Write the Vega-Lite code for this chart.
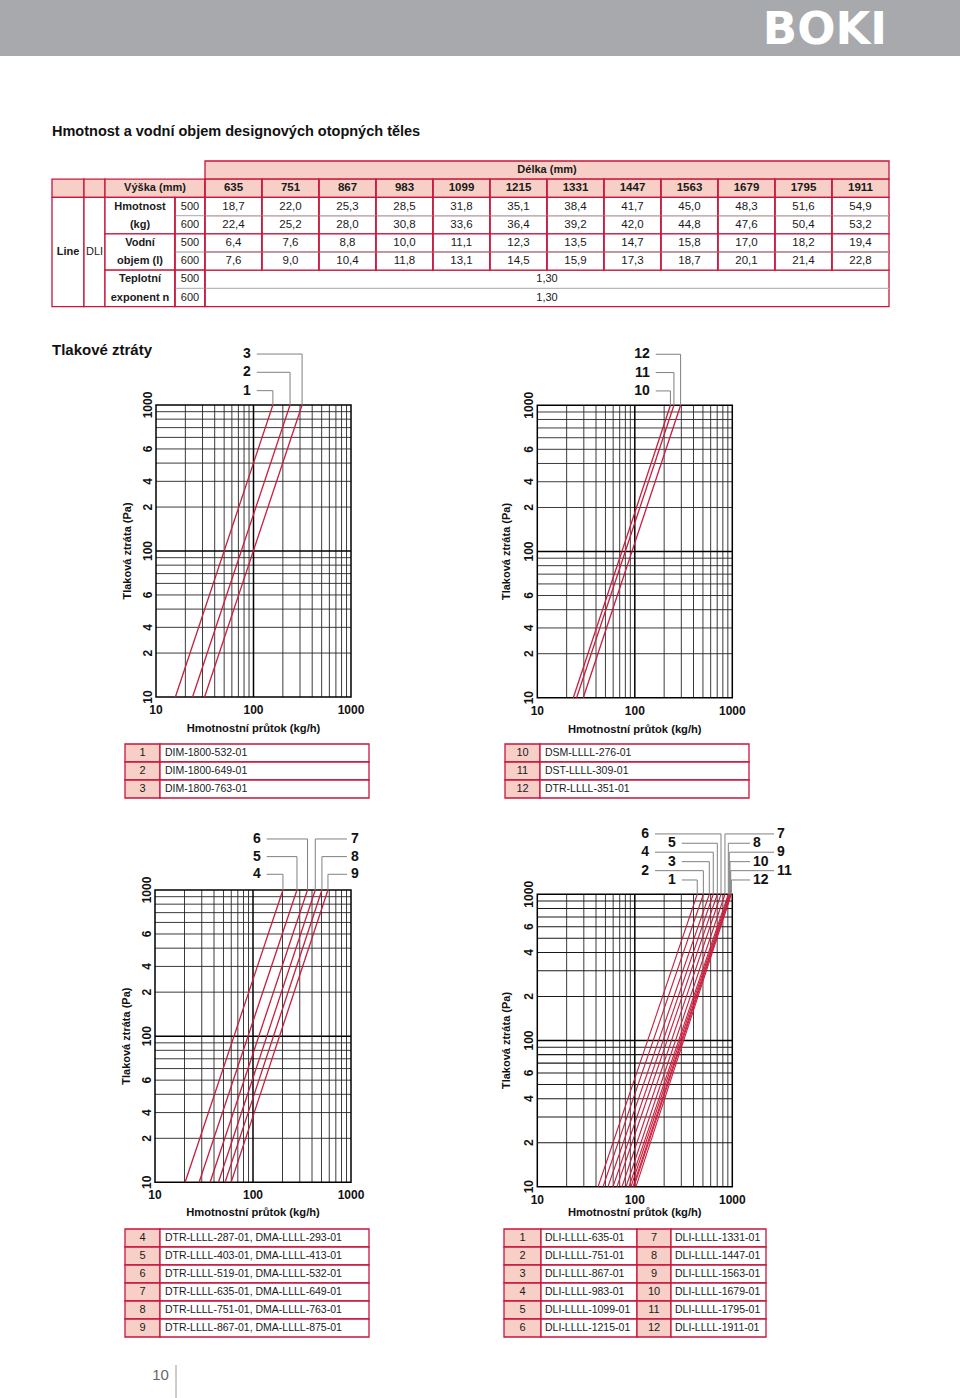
{
"$schema":"https://vega.github.io/schema/vega-lite/v6.json",
"width":960,"height":1398,
"autosize":{"type":"none"},
"padding":0,
"background":"white",
"config":{"view":{"stroke":null},"axis":{"disable":true},"legend":{"disable":true},"font":"Liberation Sans","text":{"font":"Liberation Sans","color":"#1a1a1a"}},
"resolve":{"scale":{"x":"independent","y":"independent","fill":"independent"}},
"datasets":{
 "grid":[{"v":20},{"v":30},{"v":40},{"v":50},{"v":60},{"v":70},{"v":80},{"v":90},{"v":200},{"v":300},{"v":400},{"v":500},{"v":600},{"v":700},{"v":800},{"v":900}],
 "xl":[{"v":10,"t":"10"},{"v":100,"t":"100"},{"v":1000,"t":"1000"}],
 "yl13":[{"v":10,"t":"10"},{"v":20,"t":"2"},{"v":30,"t":"4"},{"v":50,"t":"6"},{"v":100,"t":"100"},{"v":200,"t":"2"},{"v":300,"t":"4"},{"v":500,"t":"6"},{"v":1000,"t":"1000"}],
 "yl4":[{"v":10,"t":"10"},{"v":20,"t":"2"},{"v":40,"t":"4"},{"v":60,"t":"6"},{"v":100,"t":"100"},{"v":200,"t":"2"},{"v":400,"t":"4"},{"v":600,"t":"6"},{"v":1000,"t":"1000"}],
 "l1":[{"id":"1","m":15.8,"p":10},{"id":"1","m":158,"p":1000},{"id":"2","m":23.7,"p":10},{"id":"2","m":237,"p":1000},{"id":"3","m":31.5,"p":10},{"id":"3","m":315,"p":1000}],
 "a1":[{"id":"3","side":"L","ls":108,"xt":315,"ly":2234},{"id":"2","side":"L","ls":108,"xt":237,"ly":1675},{"id":"1","side":"L","ls":108,"xt":158,"ly":1254}],
 "l2":[{"id":"10","m":23.4,"p":10},{"id":"10","m":232,"p":1000},{"id":"11","m":25.3,"p":10},{"id":"11","m":252,"p":1000},{"id":"12","m":29.6,"p":10},{"id":"12","m":295,"p":1000}],
 "a2":[{"id":"12","side":"L","ls":164,"xt":295,"ly":2234},{"id":"11","side":"L","ls":164,"xt":252,"ly":1675},{"id":"10","side":"L","ls":164,"xt":232,"ly":1254}],
 "l3":[{"id":"4","m":20.3,"p":10},{"id":"4","m":202,"p":1000},{"id":"5","m":28.2,"p":10},{"id":"5","m":281,"p":1000},{"id":"6","m":36.5,"p":10},{"id":"6","m":360,"p":1000},{"id":"7","m":44.4,"p":10},{"id":"7","m":432,"p":1000},{"id":"8","m":51.9,"p":10},{"id":"8","m":505,"p":1000},{"id":"9","m":59.8,"p":10},{"id":"9","m":582,"p":1000}],
 "a3":[{"id":"6","side":"L","ls":138,"xt":360,"ly":2234},{"id":"5","side":"L","ls":138,"xt":281,"ly":1692},{"id":"4","side":"L","ls":138,"xt":202,"ly":1281},{"id":"7","side":"R","ls":910,"xt":432,"ly":2234},{"id":"8","side":"R","ls":910,"xt":505,"ly":1692},{"id":"9","side":"R","ls":910,"xt":582,"ly":1281}],
 "l4":[{"id":"1","m":42.0,"p":10},{"id":"1","m":437,"p":1000},{"id":"2","m":47.2,"p":10},{"id":"2","m":505,"p":1000},{"id":"3","m":53.1,"p":10},{"id":"3","m":581,"p":1000},{"id":"4","m":59.7,"p":10},{"id":"4","m":638,"p":1000},{"id":"5","m":65.6,"p":10},{"id":"5","m":702,"p":1000},{"id":"6","m":73.9,"p":10},{"id":"6","m":766,"p":1000},{"id":"7","m":81.3,"p":10},{"id":"7","m":841,"p":1000},{"id":"8","m":87.2,"p":10},{"id":"8","m":910,"p":1000},{"id":"9","m":91.4,"p":10},{"id":"9","m":931,"p":1000},{"id":"10","m":95.9,"p":10},{"id":"10","m":947,"p":1000},{"id":"11","m":98.2,"p":10},{"id":"11","m":963,"p":1000},{"id":"12","m":102.9,"p":10},{"id":"12","m":977,"p":1000}],
 "a4":[{"id":"6","side":"L","ls":161,"xt":766,"ly":2588},{"id":"4","side":"L","ls":161,"xt":638,"ly":1941},{"id":"2","side":"L","ls":161,"xt":505,"ly":1451},{"id":"5","side":"L","ls":303,"xt":702,"ly":2234},{"id":"3","side":"L","ls":303,"xt":581,"ly":1672},{"id":"1","side":"L","ls":303,"xt":437,"ly":1253},{"id":"7","side":"R","ls":2680,"xt":841,"ly":2588},{"id":"9","side":"R","ls":2680,"xt":931,"ly":1941},{"id":"11","side":"R","ls":2680,"xt":963,"ly":1451},{"id":"8","side":"R","ls":1520,"xt":910,"ly":2234},{"id":"10","side":"R","ls":1520,"xt":947,"ly":1672},{"id":"12","side":"R","ls":1520,"xt":977,"ly":1253}],
 "tbl":[
  {"l":"635","r":"hdr","t":"635"},{"l":"751","r":"hdr","t":"751"},{"l":"867","r":"hdr","t":"867"},{"l":"983","r":"hdr","t":"983"},{"l":"1099","r":"hdr","t":"1099"},{"l":"1215","r":"hdr","t":"1215"},{"l":"1331","r":"hdr","t":"1331"},{"l":"1447","r":"hdr","t":"1447"},{"l":"1563","r":"hdr","t":"1563"},{"l":"1679","r":"hdr","t":"1679"},{"l":"1795","r":"hdr","t":"1795"},{"l":"1911","r":"hdr","t":"1911"},
  {"l":"635","r":"H500","t":"18,7"},{"l":"751","r":"H500","t":"22,0"},{"l":"867","r":"H500","t":"25,3"},{"l":"983","r":"H500","t":"28,5"},{"l":"1099","r":"H500","t":"31,8"},{"l":"1215","r":"H500","t":"35,1"},{"l":"1331","r":"H500","t":"38,4"},{"l":"1447","r":"H500","t":"41,7"},{"l":"1563","r":"H500","t":"45,0"},{"l":"1679","r":"H500","t":"48,3"},{"l":"1795","r":"H500","t":"51,6"},{"l":"1911","r":"H500","t":"54,9"},
  {"l":"635","r":"H600","t":"22,4"},{"l":"751","r":"H600","t":"25,2"},{"l":"867","r":"H600","t":"28,0"},{"l":"983","r":"H600","t":"30,8"},{"l":"1099","r":"H600","t":"33,6"},{"l":"1215","r":"H600","t":"36,4"},{"l":"1331","r":"H600","t":"39,2"},{"l":"1447","r":"H600","t":"42,0"},{"l":"1563","r":"H600","t":"44,8"},{"l":"1679","r":"H600","t":"47,6"},{"l":"1795","r":"H600","t":"50,4"},{"l":"1911","r":"H600","t":"53,2"},
  {"l":"635","r":"V500","t":"6,4"},{"l":"751","r":"V500","t":"7,6"},{"l":"867","r":"V500","t":"8,8"},{"l":"983","r":"V500","t":"10,0"},{"l":"1099","r":"V500","t":"11,1"},{"l":"1215","r":"V500","t":"12,3"},{"l":"1331","r":"V500","t":"13,5"},{"l":"1447","r":"V500","t":"14,7"},{"l":"1563","r":"V500","t":"15,8"},{"l":"1679","r":"V500","t":"17,0"},{"l":"1795","r":"V500","t":"18,2"},{"l":"1911","r":"V500","t":"19,4"},
  {"l":"635","r":"V600","t":"7,6"},{"l":"751","r":"V600","t":"9,0"},{"l":"867","r":"V600","t":"10,4"},{"l":"983","r":"V600","t":"11,8"},{"l":"1099","r":"V600","t":"13,1"},{"l":"1215","r":"V600","t":"14,5"},{"l":"1331","r":"V600","t":"15,9"},{"l":"1447","r":"V600","t":"17,3"},{"l":"1563","r":"V600","t":"18,7"},{"l":"1679","r":"V600","t":"20,1"},{"l":"1795","r":"V600","t":"21,4"},{"l":"1911","r":"V600","t":"22,8"}
 ],
 "tcells":[
  {"c0":4,"c1":16,"r0":0,"r1":1,"f":"p"},
  {"c0":0,"c1":1,"r0":1,"r1":2,"f":"p"},{"c0":1,"c1":2,"r0":1,"r1":2,"f":"p"},{"c0":2,"c1":4,"r0":1,"r1":2,"f":"p"},
  {"c0":0,"c1":1,"r0":2,"r1":8,"f":"w"},{"c0":1,"c1":2,"r0":2,"r1":8,"f":"w"},
  {"c0":2,"c1":3,"r0":2,"r1":4,"f":"w"},{"c0":2,"c1":3,"r0":4,"r1":6,"f":"w"},{"c0":2,"c1":3,"r0":6,"r1":8,"f":"w"},
  {"c0":3,"c1":4,"r0":2,"r1":4,"f":"w"},{"c0":3,"c1":4,"r0":4,"r1":6,"f":"w"},{"c0":3,"c1":4,"r0":6,"r1":8,"f":"w"},
  {"c0":4,"c1":16,"r0":6,"r1":8,"f":"w"}
 ],
 "tlab":[
  {"cx":10,"cy":0.5,"t":"Délka (mm)","w":"b"},
  {"cx":2.714,"cy":1.5,"t":"Výška (mm)","w":"b"},
  {"cx":0.5,"cy":5,"t":"Line","w":"b"},
  {"cx":1.5,"cy":5,"t":"DLI","w":"n"},
  {"cx":2.5,"cy":2.5,"t":"Hmotnost","w":"b"},{"cx":2.5,"cy":3.5,"t":"(kg)","w":"b"},
  {"cx":2.5,"cy":4.5,"t":"Vodní","w":"b"},{"cx":2.5,"cy":5.5,"t":"objem (l)","w":"b"},
  {"cx":2.5,"cy":6.5,"t":"Teplotní","w":"b"},{"cx":2.5,"cy":7.5,"t":"exponent n","w":"b"},
  {"cx":3.5,"cy":2.5,"t":"500","w":"n"},{"cx":3.5,"cy":3.5,"t":"600","w":"n"},
  {"cx":3.5,"cy":4.5,"t":"500","w":"n"},{"cx":3.5,"cy":5.5,"t":"600","w":"n"},
  {"cx":3.5,"cy":6.5,"t":"500","w":"n"},{"cx":3.5,"cy":7.5,"t":"600","w":"n"},
  {"cx":10,"cy":6.5,"t":"1,30","w":"n"},{"cx":10,"cy":7.5,"t":"1,30","w":"n"}
 ],
 "tgray":[{"c0":3,"c1":16,"r":3},{"c0":3,"c1":16,"r":5},{"c0":3,"c1":16,"r":7}],
 "tvert":[{"c":3,"r0":2,"r1":8},{"c":4,"r0":1,"r1":8},{"c":5,"r0":1,"r1":6},{"c":6,"r0":1,"r1":6},{"c":7,"r0":1,"r1":6},{"c":8,"r0":1,"r1":6},{"c":9,"r0":1,"r1":6},{"c":10,"r0":1,"r1":6},{"c":11,"r0":1,"r1":6},{"c":12,"r0":1,"r1":6},{"c":13,"r0":1,"r1":6},{"c":14,"r0":1,"r1":6},{"c":15,"r0":1,"r1":6}],
 "g1":[{"k":"1","t":"DIM-1800-532-01"},{"k":"2","t":"DIM-1800-649-01"},{"k":"3","t":"DIM-1800-763-01"}],
 "g2":[{"k":"10","t":"DSM-LLLL-276-01"},{"k":"11","t":"DST-LLLL-309-01"},{"k":"12","t":"DTR-LLLL-351-01"}],
 "g3":[{"k":"4","t":"DTR-LLLL-287-01, DMA-LLLL-293-01"},{"k":"5","t":"DTR-LLLL-403-01, DMA-LLLL-413-01"},{"k":"6","t":"DTR-LLLL-519-01, DMA-LLLL-532-01"},{"k":"7","t":"DTR-LLLL-635-01, DMA-LLLL-649-01"},{"k":"8","t":"DTR-LLLL-751-01, DMA-LLLL-763-01"},{"k":"9","t":"DTR-LLLL-867-01, DMA-LLLL-875-01"}],
 "g4":[{"k1":"1","t1":"DLI-LLLL-635-01","k2":"7","t2":"DLI-LLLL-1331-01"},{"k1":"2","t1":"DLI-LLLL-751-01","k2":"8","t2":"DLI-LLLL-1447-01"},{"k1":"3","t1":"DLI-LLLL-867-01","k2":"9","t2":"DLI-LLLL-1563-01"},{"k1":"4","t1":"DLI-LLLL-983-01","k2":"10","t2":"DLI-LLLL-1679-01"},{"k1":"5","t1":"DLI-LLLL-1099-01","k2":"11","t2":"DLI-LLLL-1795-01"},{"k1":"6","t1":"DLI-LLLL-1215-01","k2":"12","t2":"DLI-LLLL-1911-01"}]
},
"layer":[
 {"data":{"values":[{"logo":"BOKI"}]},
  "layer":[
   {"mark":{"type":"rect","fill":"#a7a9ac"},"encoding":{"x":{"datum":0,"type":"quantitative","scale":{"domain":[0,1],"range":[0,960],"nice":false}},"x2":{"datum":1},"y":{"datum":0,"type":"quantitative","scale":{"domain":[0,1],"range":[0,56],"nice":false}},"y2":{"datum":1}}},
   {"mark":{"type":"text","font":"DejaVu Sans","fontWeight":"bold","fontSize":45,"color":"white","align":"right","baseline":"middle"},"encoding":{"x":{"datum":0.924,"type":"quantitative","scale":{"domain":[0,1],"range":[0,960],"nice":false}},"y":{"datum":0.53,"type":"quantitative","scale":{"domain":[0,1],"range":[0,56],"nice":false}},"text":{"field":"logo","type":"nominal"}}}
  ]},
 {"layer":[
   {"data":{"name":"tcells"},"mark":{"type":"rect","stroke":"#c8163c","strokeWidth":1.3},"encoding":{"x":{"field":"c0","type":"quantitative","scale":{"type":"linear","domain":[0,1,2,3,4,16],"range":[52,84,105,175,205,889],"nice":false,"zero":false}},"x2":{"field":"c1"},"y":{"field":"r0","type":"quantitative","scale":{"type":"linear","domain":[0,8],"range":[161,306.6],"nice":false,"zero":false}},"y2":{"field":"r1"},"fill":{"field":"f","type":"nominal","scale":{"domain":["p","w"],"range":["#f8cfc7","white"]},"legend":null}}},
   {"data":{"name":"tlab"},"transform":[{"filter":"datum.w==='b'"}],"mark":{"type":"text","fontWeight":"bold","fontSize":11,"baseline":"middle"},"encoding":{"x":{"field":"cx","type":"quantitative","scale":{"type":"linear","domain":[0,1,2,3,4,16],"range":[52,84,105,175,205,889],"nice":false,"zero":false}},"y":{"field":"cy","type":"quantitative","scale":{"type":"linear","domain":[0,8],"range":[161,306.6],"nice":false,"zero":false}},"text":{"field":"t","type":"nominal"}}},
   {"data":{"name":"tlab"},"transform":[{"filter":"datum.w==='n'"}],"mark":{"type":"text","fontSize":11,"baseline":"middle"},"encoding":{"x":{"field":"cx","type":"quantitative","scale":{"type":"linear","domain":[0,1,2,3,4,16],"range":[52,84,105,175,205,889],"nice":false,"zero":false}},"y":{"field":"cy","type":"quantitative","scale":{"type":"linear","domain":[0,8],"range":[161,306.6],"nice":false,"zero":false}},"text":{"field":"t","type":"nominal"}}},
   {"data":{"values":[{"cx":0,"cy":-1.35,"t":"Hmotnost a vodní objem designových otopných těles"}]},"mark":{"type":"text","fontWeight":"bold","fontSize":14.5,"align":"left","baseline":"alphabetic","color":"#111"},"encoding":{"x":{"field":"cx","type":"quantitative","scale":{"type":"linear","domain":[0,1,2,3,4,16],"range":[52,84,105,175,205,889],"nice":false,"zero":false}},"y":{"field":"cy","type":"quantitative","scale":{"type":"linear","domain":[0,8],"range":[161,306.6],"nice":false,"zero":false}},"text":{"field":"t","type":"nominal"}}},
   {"data":{"values":[{"cx":0,"cy":10.66,"t":"Tlakové ztráty"}]},"mark":{"type":"text","fontWeight":"bold","fontSize":15,"align":"left","baseline":"alphabetic","color":"#111"},"encoding":{"x":{"field":"cx","type":"quantitative","scale":{"type":"linear","domain":[0,1,2,3,4,16],"range":[52,84,105,175,205,889],"nice":false,"zero":false}},"y":{"field":"cy","type":"quantitative","scale":{"type":"linear","domain":[0,8],"range":[161,306.6],"nice":false,"zero":false}},"text":{"field":"t","type":"nominal"}}}
  ]},
 {"data":{"name":"tbl"},
  "layer":[
   {"mark":{"type":"rect","stroke":"#c8163c","strokeWidth":1.3},"encoding":{"x":{"field":"l","type":"nominal","scale":{"type":"band","domain":["635","751","867","983","1099","1215","1331","1447","1563","1679","1795","1911"],"range":[205,889],"paddingInner":0,"paddingOuter":0}},"y":{"field":"r","type":"nominal","scale":{"type":"band","domain":["hdr","H500","H600","V500","V600"],"range":[179.2,270.2],"paddingInner":0,"paddingOuter":0}},"fill":{"condition":{"test":"datum.r==='hdr'","value":"#f8cfc7"},"value":"white"}}},
   {"transform":[{"filter":"datum.r==='hdr'"}],"mark":{"type":"text","fontWeight":"bold","fontSize":11.5,"baseline":"middle"},"encoding":{"x":{"field":"l","type":"nominal","scale":{"type":"band","domain":["635","751","867","983","1099","1215","1331","1447","1563","1679","1795","1911"],"range":[205,889],"paddingInner":0,"paddingOuter":0}},"y":{"field":"r","type":"nominal","scale":{"type":"band","domain":["hdr","H500","H600","V500","V600"],"range":[179.2,270.2],"paddingInner":0,"paddingOuter":0}},"text":{"field":"t","type":"nominal"}}},
   {"transform":[{"filter":"datum.r!=='hdr'"}],"mark":{"type":"text","fontSize":11.5,"baseline":"middle"},"encoding":{"x":{"field":"l","type":"nominal","scale":{"type":"band","domain":["635","751","867","983","1099","1215","1331","1447","1563","1679","1795","1911"],"range":[205,889],"paddingInner":0,"paddingOuter":0}},"y":{"field":"r","type":"nominal","scale":{"type":"band","domain":["hdr","H500","H600","V500","V600"],"range":[179.2,270.2],"paddingInner":0,"paddingOuter":0}},"text":{"field":"t","type":"nominal"}}}
  ]},
 {"layer":[
   {"data":{"name":"tgray"},"mark":{"type":"rule","color":"#b8b8b8","strokeWidth":1.3},"encoding":{"x":{"field":"c0","type":"quantitative","scale":{"type":"linear","domain":[0,1,2,3,4,16],"range":[52,84,105,175,205,889],"nice":false,"zero":false}},"x2":{"field":"c1"},"y":{"field":"r","type":"quantitative","scale":{"type":"linear","domain":[0,8],"range":[161,306.6],"nice":false,"zero":false}}}},
   {"data":{"name":"tvert"},"mark":{"type":"rule","color":"#c8163c","strokeWidth":1.3},"encoding":{"x":{"field":"c","type":"quantitative","scale":{"type":"linear","domain":[0,1,2,3,4,16],"range":[52,84,105,175,205,889],"nice":false,"zero":false}},"y":{"field":"r0","type":"quantitative","scale":{"type":"linear","domain":[0,8],"range":[161,306.6],"nice":false,"zero":false}},"y2":{"field":"r1"}}}
  ]},
 {"layer":[
   {"data":{"name":"grid"},"mark":{"type":"rule","color":"#262626","strokeWidth":0.9},"encoding":{"x":{"field":"v","type":"quantitative","scale":{"type":"log","domain":[10,1000],"range":[156,351],"nice":false}},"y":{"datum":10,"type":"quantitative","scale":{"type":"log","domain":[10,1000],"range":[697,405],"nice":false}},"y2":{"datum":1000}}},
   {"data":{"name":"grid"},"mark":{"type":"rule","color":"#262626","strokeWidth":0.9},"encoding":{"y":{"field":"v","type":"quantitative","scale":{"type":"log","domain":[10,1000],"range":[697,405],"nice":false}},"x":{"datum":10,"type":"quantitative","scale":{"type":"log","domain":[10,1000],"range":[156,351],"nice":false}},"x2":{"datum":1000}}},
   {"data":{"values":[{"v":100}]},"mark":{"type":"rule","color":"#000","strokeWidth":1.5},"encoding":{"x":{"field":"v","type":"quantitative","scale":{"type":"log","domain":[10,1000],"range":[156,351],"nice":false}},"y":{"datum":10,"type":"quantitative","scale":{"type":"log","domain":[10,1000],"range":[697,405],"nice":false}},"y2":{"datum":1000}}},
   {"data":{"values":[{"v":100}]},"mark":{"type":"rule","color":"#000","strokeWidth":1.5},"encoding":{"y":{"field":"v","type":"quantitative","scale":{"type":"log","domain":[10,1000],"range":[697,405],"nice":false}},"x":{"datum":10,"type":"quantitative","scale":{"type":"log","domain":[10,1000],"range":[156,351],"nice":false}},"x2":{"datum":1000}}},
   {"data":{"values":[{"v":1}]},"mark":{"type":"rect","fill":"transparent","stroke":"#000","strokeWidth":1.5},"encoding":{"x":{"datum":10,"type":"quantitative","scale":{"type":"log","domain":[10,1000],"range":[156,351],"nice":false}},"x2":{"datum":1000},"y":{"datum":10,"type":"quantitative","scale":{"type":"log","domain":[10,1000],"range":[697,405],"nice":false}},"y2":{"datum":1000}}},
   {"data":{"name":"l1"},"mark":{"type":"line","color":"#c81e3c","strokeWidth":1.3},"encoding":{"x":{"field":"m","type":"quantitative","scale":{"type":"log","domain":[10,1000],"range":[156,351],"nice":false}},"y":{"field":"p","type":"quantitative","scale":{"type":"log","domain":[10,1000],"range":[697,405],"nice":false}},"detail":{"field":"id","type":"nominal"}}},
   {"data":{"name":"a1"},"mark":{"type":"rule","color":"#808080","strokeWidth":1},"encoding":{"x":{"field":"ls","type":"quantitative","scale":{"type":"log","domain":[10,1000],"range":[156,351],"nice":false}},"x2":{"field":"xt"},"y":{"field":"ly","type":"quantitative","scale":{"type":"log","domain":[10,1000],"range":[697,405],"nice":false}}}},
   {"data":{"name":"a1"},"mark":{"type":"rule","color":"#808080","strokeWidth":1},"encoding":{"x":{"field":"xt","type":"quantitative","scale":{"type":"log","domain":[10,1000],"range":[156,351],"nice":false}},"y":{"field":"ly","type":"quantitative","scale":{"type":"log","domain":[10,1000],"range":[697,405],"nice":false}},"y2":{"datum":1000}}},
   {"data":{"name":"a1"},"mark":{"type":"text","align":"right","dx":-6,"baseline":"middle","fontWeight":"bold","fontSize":14,"color":"#111"},"encoding":{"x":{"field":"ls","type":"quantitative","scale":{"type":"log","domain":[10,1000],"range":[156,351],"nice":false}},"y":{"field":"ly","type":"quantitative","scale":{"type":"log","domain":[10,1000],"range":[697,405],"nice":false}},"text":{"field":"id","type":"nominal"}}},
   {"data":{"name":"xl"},"mark":{"type":"text","baseline":"middle","dy":13,"fontWeight":"bold","fontSize":12,"color":"#111"},"encoding":{"x":{"field":"v","type":"quantitative","scale":{"type":"log","domain":[10,1000],"range":[156,351],"nice":false}},"y":{"datum":10,"type":"quantitative","scale":{"type":"log","domain":[10,1000],"range":[697,405],"nice":false}},"text":{"field":"t","type":"nominal"}}},
   {"data":{"name":"yl13"},"mark":{"type":"text","baseline":"middle","align":"center","angle":-90,"dy":-8,"fontWeight":"bold","fontSize":12,"color":"#111"},"encoding":{"x":{"datum":10,"type":"quantitative","scale":{"type":"log","domain":[10,1000],"range":[156,351],"nice":false}},"y":{"field":"v","type":"quantitative","scale":{"type":"log","domain":[10,1000],"range":[697,405],"nice":false}},"text":{"field":"t","type":"nominal"}}},
   {"data":{"values":[{"t":"Hmotnostní průtok (kg/h)"}]},"mark":{"type":"text","baseline":"middle","dy":32,"fontWeight":"bold","fontSize":11.2,"color":"#111"},"encoding":{"x":{"datum":100,"type":"quantitative","scale":{"type":"log","domain":[10,1000],"range":[156,351],"nice":false}},"y":{"datum":10,"type":"quantitative","scale":{"type":"log","domain":[10,1000],"range":[697,405],"nice":false}},"text":{"field":"t","type":"nominal"}}},
   {"data":{"values":[{"t":"Tlaková ztráta (Pa)"}]},"mark":{"type":"text","baseline":"middle","align":"center","angle":-90,"dy":-28,"fontWeight":"bold","fontSize":11,"color":"#111"},"encoding":{"x":{"datum":10,"type":"quantitative","scale":{"type":"log","domain":[10,1000],"range":[156,351],"nice":false}},"y":{"datum":100,"type":"quantitative","scale":{"type":"log","domain":[10,1000],"range":[697,405],"nice":false}},"text":{"field":"t","type":"nominal"}}}
  ]},
 {"layer":[
   {"data":{"name":"grid"},"mark":{"type":"rule","color":"#262626","strokeWidth":0.9},"encoding":{"x":{"field":"v","type":"quantitative","scale":{"type":"log","domain":[10,1000],"range":[537.3,732.3],"nice":false}},"y":{"datum":10,"type":"quantitative","scale":{"type":"log","domain":[10,1000],"range":[697.7,405.3],"nice":false}},"y2":{"datum":1000}}},
   {"data":{"name":"grid"},"mark":{"type":"rule","color":"#262626","strokeWidth":0.9},"encoding":{"y":{"field":"v","type":"quantitative","scale":{"type":"log","domain":[10,1000],"range":[697.7,405.3],"nice":false}},"x":{"datum":10,"type":"quantitative","scale":{"type":"log","domain":[10,1000],"range":[537.3,732.3],"nice":false}},"x2":{"datum":1000}}},
   {"data":{"values":[{"v":100}]},"mark":{"type":"rule","color":"#000","strokeWidth":1.5},"encoding":{"x":{"field":"v","type":"quantitative","scale":{"type":"log","domain":[10,1000],"range":[537.3,732.3],"nice":false}},"y":{"datum":10,"type":"quantitative","scale":{"type":"log","domain":[10,1000],"range":[697.7,405.3],"nice":false}},"y2":{"datum":1000}}},
   {"data":{"values":[{"v":100}]},"mark":{"type":"rule","color":"#000","strokeWidth":1.5},"encoding":{"y":{"field":"v","type":"quantitative","scale":{"type":"log","domain":[10,1000],"range":[697.7,405.3],"nice":false}},"x":{"datum":10,"type":"quantitative","scale":{"type":"log","domain":[10,1000],"range":[537.3,732.3],"nice":false}},"x2":{"datum":1000}}},
   {"data":{"values":[{"v":1}]},"mark":{"type":"rect","fill":"transparent","stroke":"#000","strokeWidth":1.5},"encoding":{"x":{"datum":10,"type":"quantitative","scale":{"type":"log","domain":[10,1000],"range":[537.3,732.3],"nice":false}},"x2":{"datum":1000},"y":{"datum":10,"type":"quantitative","scale":{"type":"log","domain":[10,1000],"range":[697.7,405.3],"nice":false}},"y2":{"datum":1000}}},
   {"data":{"name":"l2"},"mark":{"type":"line","color":"#c81e3c","strokeWidth":1.3},"encoding":{"x":{"field":"m","type":"quantitative","scale":{"type":"log","domain":[10,1000],"range":[537.3,732.3],"nice":false}},"y":{"field":"p","type":"quantitative","scale":{"type":"log","domain":[10,1000],"range":[697.7,405.3],"nice":false}},"detail":{"field":"id","type":"nominal"}}},
   {"data":{"name":"a2"},"mark":{"type":"rule","color":"#808080","strokeWidth":1},"encoding":{"x":{"field":"ls","type":"quantitative","scale":{"type":"log","domain":[10,1000],"range":[537.3,732.3],"nice":false}},"x2":{"field":"xt"},"y":{"field":"ly","type":"quantitative","scale":{"type":"log","domain":[10,1000],"range":[697.7,405.3],"nice":false}}}},
   {"data":{"name":"a2"},"mark":{"type":"rule","color":"#808080","strokeWidth":1},"encoding":{"x":{"field":"xt","type":"quantitative","scale":{"type":"log","domain":[10,1000],"range":[537.3,732.3],"nice":false}},"y":{"field":"ly","type":"quantitative","scale":{"type":"log","domain":[10,1000],"range":[697.7,405.3],"nice":false}},"y2":{"datum":1000}}},
   {"data":{"name":"a2"},"mark":{"type":"text","align":"right","dx":-6,"baseline":"middle","fontWeight":"bold","fontSize":14,"color":"#111"},"encoding":{"x":{"field":"ls","type":"quantitative","scale":{"type":"log","domain":[10,1000],"range":[537.3,732.3],"nice":false}},"y":{"field":"ly","type":"quantitative","scale":{"type":"log","domain":[10,1000],"range":[697.7,405.3],"nice":false}},"text":{"field":"id","type":"nominal"}}},
   {"data":{"name":"xl"},"mark":{"type":"text","baseline":"middle","dy":13,"fontWeight":"bold","fontSize":12,"color":"#111"},"encoding":{"x":{"field":"v","type":"quantitative","scale":{"type":"log","domain":[10,1000],"range":[537.3,732.3],"nice":false}},"y":{"datum":10,"type":"quantitative","scale":{"type":"log","domain":[10,1000],"range":[697.7,405.3],"nice":false}},"text":{"field":"t","type":"nominal"}}},
   {"data":{"name":"yl13"},"mark":{"type":"text","baseline":"middle","align":"center","angle":-90,"dy":-8,"fontWeight":"bold","fontSize":12,"color":"#111"},"encoding":{"x":{"datum":10,"type":"quantitative","scale":{"type":"log","domain":[10,1000],"range":[537.3,732.3],"nice":false}},"y":{"field":"v","type":"quantitative","scale":{"type":"log","domain":[10,1000],"range":[697.7,405.3],"nice":false}},"text":{"field":"t","type":"nominal"}}},
   {"data":{"values":[{"t":"Hmotnostní průtok (kg/h)"}]},"mark":{"type":"text","baseline":"middle","dy":32,"fontWeight":"bold","fontSize":11.2,"color":"#111"},"encoding":{"x":{"datum":100,"type":"quantitative","scale":{"type":"log","domain":[10,1000],"range":[537.3,732.3],"nice":false}},"y":{"datum":10,"type":"quantitative","scale":{"type":"log","domain":[10,1000],"range":[697.7,405.3],"nice":false}},"text":{"field":"t","type":"nominal"}}},
   {"data":{"values":[{"t":"Tlaková ztráta (Pa)"}]},"mark":{"type":"text","baseline":"middle","align":"center","angle":-90,"dy":-30,"fontWeight":"bold","fontSize":11,"color":"#111"},"encoding":{"x":{"datum":10,"type":"quantitative","scale":{"type":"log","domain":[10,1000],"range":[537.3,732.3],"nice":false}},"y":{"datum":100,"type":"quantitative","scale":{"type":"log","domain":[10,1000],"range":[697.7,405.3],"nice":false}},"text":{"field":"t","type":"nominal"}}}
  ]},
 {"layer":[
   {"data":{"name":"grid"},"mark":{"type":"rule","color":"#262626","strokeWidth":0.9},"encoding":{"x":{"field":"v","type":"quantitative","scale":{"type":"log","domain":[10,1000],"range":[155,351],"nice":false}},"y":{"datum":10,"type":"quantitative","scale":{"type":"log","domain":[10,1000],"range":[1182.3,890],"nice":false}},"y2":{"datum":1000}}},
   {"data":{"name":"grid"},"mark":{"type":"rule","color":"#262626","strokeWidth":0.9},"encoding":{"y":{"field":"v","type":"quantitative","scale":{"type":"log","domain":[10,1000],"range":[1182.3,890],"nice":false}},"x":{"datum":10,"type":"quantitative","scale":{"type":"log","domain":[10,1000],"range":[155,351],"nice":false}},"x2":{"datum":1000}}},
   {"data":{"values":[{"v":100}]},"mark":{"type":"rule","color":"#000","strokeWidth":1.5},"encoding":{"x":{"field":"v","type":"quantitative","scale":{"type":"log","domain":[10,1000],"range":[155,351],"nice":false}},"y":{"datum":10,"type":"quantitative","scale":{"type":"log","domain":[10,1000],"range":[1182.3,890],"nice":false}},"y2":{"datum":1000}}},
   {"data":{"values":[{"v":100}]},"mark":{"type":"rule","color":"#000","strokeWidth":1.5},"encoding":{"y":{"field":"v","type":"quantitative","scale":{"type":"log","domain":[10,1000],"range":[1182.3,890],"nice":false}},"x":{"datum":10,"type":"quantitative","scale":{"type":"log","domain":[10,1000],"range":[155,351],"nice":false}},"x2":{"datum":1000}}},
   {"data":{"values":[{"v":1}]},"mark":{"type":"rect","fill":"transparent","stroke":"#000","strokeWidth":1.5},"encoding":{"x":{"datum":10,"type":"quantitative","scale":{"type":"log","domain":[10,1000],"range":[155,351],"nice":false}},"x2":{"datum":1000},"y":{"datum":10,"type":"quantitative","scale":{"type":"log","domain":[10,1000],"range":[1182.3,890],"nice":false}},"y2":{"datum":1000}}},
   {"data":{"name":"l3"},"mark":{"type":"line","color":"#c81e3c","strokeWidth":1.3},"encoding":{"x":{"field":"m","type":"quantitative","scale":{"type":"log","domain":[10,1000],"range":[155,351],"nice":false}},"y":{"field":"p","type":"quantitative","scale":{"type":"log","domain":[10,1000],"range":[1182.3,890],"nice":false}},"detail":{"field":"id","type":"nominal"}}},
   {"data":{"name":"a3"},"mark":{"type":"rule","color":"#808080","strokeWidth":1},"encoding":{"x":{"field":"ls","type":"quantitative","scale":{"type":"log","domain":[10,1000],"range":[155,351],"nice":false}},"x2":{"field":"xt"},"y":{"field":"ly","type":"quantitative","scale":{"type":"log","domain":[10,1000],"range":[1182.3,890],"nice":false}}}},
   {"data":{"name":"a3"},"mark":{"type":"rule","color":"#808080","strokeWidth":1},"encoding":{"x":{"field":"xt","type":"quantitative","scale":{"type":"log","domain":[10,1000],"range":[155,351],"nice":false}},"y":{"field":"ly","type":"quantitative","scale":{"type":"log","domain":[10,1000],"range":[1182.3,890],"nice":false}},"y2":{"datum":1000}}},
   {"data":{"name":"a3"},"transform":[{"filter":"datum.side==='L'"}],"mark":{"type":"text","align":"right","dx":-6,"baseline":"middle","fontWeight":"bold","fontSize":14,"color":"#111"},"encoding":{"x":{"field":"ls","type":"quantitative","scale":{"type":"log","domain":[10,1000],"range":[155,351],"nice":false}},"y":{"field":"ly","type":"quantitative","scale":{"type":"log","domain":[10,1000],"range":[1182.3,890],"nice":false}},"text":{"field":"id","type":"nominal"}}},
   {"data":{"name":"a3"},"transform":[{"filter":"datum.side==='R'"}],"mark":{"type":"text","align":"left","dx":4,"baseline":"middle","fontWeight":"bold","fontSize":14,"color":"#111"},"encoding":{"x":{"field":"ls","type":"quantitative","scale":{"type":"log","domain":[10,1000],"range":[155,351],"nice":false}},"y":{"field":"ly","type":"quantitative","scale":{"type":"log","domain":[10,1000],"range":[1182.3,890],"nice":false}},"text":{"field":"id","type":"nominal"}}},
   {"data":{"name":"xl"},"mark":{"type":"text","baseline":"middle","dy":13,"fontWeight":"bold","fontSize":12,"color":"#111"},"encoding":{"x":{"field":"v","type":"quantitative","scale":{"type":"log","domain":[10,1000],"range":[155,351],"nice":false}},"y":{"datum":10,"type":"quantitative","scale":{"type":"log","domain":[10,1000],"range":[1182.3,890],"nice":false}},"text":{"field":"t","type":"nominal"}}},
   {"data":{"name":"yl13"},"mark":{"type":"text","baseline":"middle","align":"center","angle":-90,"dy":-8,"fontWeight":"bold","fontSize":12,"color":"#111"},"encoding":{"x":{"datum":10,"type":"quantitative","scale":{"type":"log","domain":[10,1000],"range":[155,351],"nice":false}},"y":{"field":"v","type":"quantitative","scale":{"type":"log","domain":[10,1000],"range":[1182.3,890],"nice":false}},"text":{"field":"t","type":"nominal"}}},
   {"data":{"values":[{"t":"Hmotnostní průtok (kg/h)"}]},"mark":{"type":"text","baseline":"middle","dy":31,"fontWeight":"bold","fontSize":11.2,"color":"#111"},"encoding":{"x":{"datum":100,"type":"quantitative","scale":{"type":"log","domain":[10,1000],"range":[155,351],"nice":false}},"y":{"datum":10,"type":"quantitative","scale":{"type":"log","domain":[10,1000],"range":[1182.3,890],"nice":false}},"text":{"field":"t","type":"nominal"}}},
   {"data":{"values":[{"t":"Tlaková ztráta (Pa)"}]},"mark":{"type":"text","baseline":"middle","align":"center","angle":-90,"dy":-28,"fontWeight":"bold","fontSize":11,"color":"#111"},"encoding":{"x":{"datum":10,"type":"quantitative","scale":{"type":"log","domain":[10,1000],"range":[155,351],"nice":false}},"y":{"datum":100,"type":"quantitative","scale":{"type":"log","domain":[10,1000],"range":[1182.3,890],"nice":false}},"text":{"field":"t","type":"nominal"}}}
  ]},
 {"layer":[
   {"data":{"name":"grid"},"mark":{"type":"rule","color":"#262626","strokeWidth":0.9},"encoding":{"x":{"field":"v","type":"quantitative","scale":{"type":"log","domain":[10,1000],"range":[537.3,732.3],"nice":false}},"y":{"datum":10,"type":"quantitative","scale":{"type":"log","domain":[10,1000],"range":[1186.7,894.3],"nice":false}},"y2":{"datum":1000}}},
   {"data":{"name":"grid"},"mark":{"type":"rule","color":"#1a1a1a","strokeWidth":1.1},"encoding":{"y":{"field":"v","type":"quantitative","scale":{"type":"log","domain":[10,1000],"range":[1186.7,894.3],"nice":false}},"x":{"datum":10,"type":"quantitative","scale":{"type":"log","domain":[10,1000],"range":[537.3,732.3],"nice":false}},"x2":{"datum":1000}}},
   {"data":{"values":[{"v":100}]},"mark":{"type":"rule","color":"#000","strokeWidth":1.5},"encoding":{"x":{"field":"v","type":"quantitative","scale":{"type":"log","domain":[10,1000],"range":[537.3,732.3],"nice":false}},"y":{"datum":10,"type":"quantitative","scale":{"type":"log","domain":[10,1000],"range":[1186.7,894.3],"nice":false}},"y2":{"datum":1000}}},
   {"data":{"values":[{"v":100}]},"mark":{"type":"rule","color":"#000","strokeWidth":1.5},"encoding":{"y":{"field":"v","type":"quantitative","scale":{"type":"log","domain":[10,1000],"range":[1186.7,894.3],"nice":false}},"x":{"datum":10,"type":"quantitative","scale":{"type":"log","domain":[10,1000],"range":[537.3,732.3],"nice":false}},"x2":{"datum":1000}}},
   {"data":{"values":[{"v":1}]},"mark":{"type":"rect","fill":"transparent","stroke":"#000","strokeWidth":1.5},"encoding":{"x":{"datum":10,"type":"quantitative","scale":{"type":"log","domain":[10,1000],"range":[537.3,732.3],"nice":false}},"x2":{"datum":1000},"y":{"datum":10,"type":"quantitative","scale":{"type":"log","domain":[10,1000],"range":[1186.7,894.3],"nice":false}},"y2":{"datum":1000}}},
   {"data":{"name":"l4"},"mark":{"type":"line","color":"#c81e3c","strokeWidth":1.1},"encoding":{"x":{"field":"m","type":"quantitative","scale":{"type":"log","domain":[10,1000],"range":[537.3,732.3],"nice":false}},"y":{"field":"p","type":"quantitative","scale":{"type":"log","domain":[10,1000],"range":[1186.7,894.3],"nice":false}},"detail":{"field":"id","type":"nominal"}}},
   {"data":{"name":"a4"},"mark":{"type":"rule","color":"#808080","strokeWidth":1},"encoding":{"x":{"field":"ls","type":"quantitative","scale":{"type":"log","domain":[10,1000],"range":[537.3,732.3],"nice":false}},"x2":{"field":"xt"},"y":{"field":"ly","type":"quantitative","scale":{"type":"log","domain":[10,1000],"range":[1186.7,894.3],"nice":false}}}},
   {"data":{"name":"a4"},"mark":{"type":"rule","color":"#808080","strokeWidth":1},"encoding":{"x":{"field":"xt","type":"quantitative","scale":{"type":"log","domain":[10,1000],"range":[537.3,732.3],"nice":false}},"y":{"field":"ly","type":"quantitative","scale":{"type":"log","domain":[10,1000],"range":[1186.7,894.3],"nice":false}},"y2":{"datum":1000}}},
   {"data":{"name":"a4"},"transform":[{"filter":"datum.side==='L'"}],"mark":{"type":"text","align":"right","dx":-6,"baseline":"middle","fontWeight":"bold","fontSize":14,"color":"#111"},"encoding":{"x":{"field":"ls","type":"quantitative","scale":{"type":"log","domain":[10,1000],"range":[537.3,732.3],"nice":false}},"y":{"field":"ly","type":"quantitative","scale":{"type":"log","domain":[10,1000],"range":[1186.7,894.3],"nice":false}},"text":{"field":"id","type":"nominal"}}},
   {"data":{"name":"a4"},"transform":[{"filter":"datum.side==='R'"}],"mark":{"type":"text","align":"left","dx":3,"baseline":"middle","fontWeight":"bold","fontSize":14,"color":"#111"},"encoding":{"x":{"field":"ls","type":"quantitative","scale":{"type":"log","domain":[10,1000],"range":[537.3,732.3],"nice":false}},"y":{"field":"ly","type":"quantitative","scale":{"type":"log","domain":[10,1000],"range":[1186.7,894.3],"nice":false}},"text":{"field":"id","type":"nominal"}}},
   {"data":{"name":"xl"},"mark":{"type":"text","baseline":"middle","dy":13,"fontWeight":"bold","fontSize":12,"color":"#111"},"encoding":{"x":{"field":"v","type":"quantitative","scale":{"type":"log","domain":[10,1000],"range":[537.3,732.3],"nice":false}},"y":{"datum":10,"type":"quantitative","scale":{"type":"log","domain":[10,1000],"range":[1186.7,894.3],"nice":false}},"text":{"field":"t","type":"nominal"}}},
   {"data":{"name":"yl4"},"mark":{"type":"text","baseline":"middle","align":"center","angle":-90,"dy":-8,"fontWeight":"bold","fontSize":12,"color":"#111"},"encoding":{"x":{"datum":10,"type":"quantitative","scale":{"type":"log","domain":[10,1000],"range":[537.3,732.3],"nice":false}},"y":{"field":"v","type":"quantitative","scale":{"type":"log","domain":[10,1000],"range":[1186.7,894.3],"nice":false}},"text":{"field":"t","type":"nominal"}}},
   {"data":{"values":[{"t":"Hmotnostní průtok (kg/h)"}]},"mark":{"type":"text","baseline":"middle","dy":26,"fontWeight":"bold","fontSize":11.2,"color":"#111"},"encoding":{"x":{"datum":100,"type":"quantitative","scale":{"type":"log","domain":[10,1000],"range":[537.3,732.3],"nice":false}},"y":{"datum":10,"type":"quantitative","scale":{"type":"log","domain":[10,1000],"range":[1186.7,894.3],"nice":false}},"text":{"field":"t","type":"nominal"}}},
   {"data":{"values":[{"t":"Tlaková ztráta (Pa)"}]},"mark":{"type":"text","baseline":"middle","align":"center","angle":-90,"dy":-30,"fontWeight":"bold","fontSize":11,"color":"#111"},"encoding":{"x":{"datum":10,"type":"quantitative","scale":{"type":"log","domain":[10,1000],"range":[537.3,732.3],"nice":false}},"y":{"datum":100,"type":"quantitative","scale":{"type":"log","domain":[10,1000],"range":[1186.7,894.3],"nice":false}},"text":{"field":"t","type":"nominal"}}}
  ]},
 {"data":{"name":"g1"},
  "layer":[
   {"mark":{"type":"rect","fill":"#f8cfc7","stroke":"#c8163c","strokeWidth":1.3},"encoding":{"x":{"datum":0,"type":"quantitative","scale":{"domain":[0,1,2],"range":[125,160,369],"nice":false,"zero":false}},"x2":{"datum":1},"y":{"field":"k","type":"nominal","sort":null,"scale":{"type":"band","range":[744,798],"paddingInner":0,"paddingOuter":0}}}},
   {"mark":{"type":"rect","fill":"white","stroke":"#c8163c","strokeWidth":1.3},"encoding":{"x":{"datum":1,"type":"quantitative","scale":{"domain":[0,1,2],"range":[125,160,369],"nice":false,"zero":false}},"x2":{"datum":2},"y":{"field":"k","type":"nominal","sort":null,"scale":{"type":"band","range":[744,798],"paddingInner":0,"paddingOuter":0}}}},
   {"mark":{"type":"text","fontSize":11,"baseline":"middle"},"encoding":{"x":{"datum":0.5,"type":"quantitative","scale":{"domain":[0,1,2],"range":[125,160,369],"nice":false,"zero":false}},"y":{"field":"k","type":"nominal","sort":null,"scale":{"type":"band","range":[744,798],"paddingInner":0,"paddingOuter":0}},"text":{"field":"k","type":"nominal"}}},
   {"mark":{"type":"text","fontSize":10.5,"baseline":"middle","align":"left","dx":5},"encoding":{"x":{"datum":1,"type":"quantitative","scale":{"domain":[0,1,2],"range":[125,160,369],"nice":false,"zero":false}},"y":{"field":"k","type":"nominal","sort":null,"scale":{"type":"band","range":[744,798],"paddingInner":0,"paddingOuter":0}},"text":{"field":"t","type":"nominal"}}}
  ]},
 {"data":{"name":"g2"},
  "layer":[
   {"mark":{"type":"rect","fill":"#f8cfc7","stroke":"#c8163c","strokeWidth":1.3},"encoding":{"x":{"datum":0,"type":"quantitative","scale":{"domain":[0,1,2],"range":[505,540,749],"nice":false,"zero":false}},"x2":{"datum":1},"y":{"field":"k","type":"nominal","sort":null,"scale":{"type":"band","range":[744,798],"paddingInner":0,"paddingOuter":0}}}},
   {"mark":{"type":"rect","fill":"white","stroke":"#c8163c","strokeWidth":1.3},"encoding":{"x":{"datum":1,"type":"quantitative","scale":{"domain":[0,1,2],"range":[505,540,749],"nice":false,"zero":false}},"x2":{"datum":2},"y":{"field":"k","type":"nominal","sort":null,"scale":{"type":"band","range":[744,798],"paddingInner":0,"paddingOuter":0}}}},
   {"mark":{"type":"text","fontSize":11,"baseline":"middle"},"encoding":{"x":{"datum":0.5,"type":"quantitative","scale":{"domain":[0,1,2],"range":[505,540,749],"nice":false,"zero":false}},"y":{"field":"k","type":"nominal","sort":null,"scale":{"type":"band","range":[744,798],"paddingInner":0,"paddingOuter":0}},"text":{"field":"k","type":"nominal"}}},
   {"mark":{"type":"text","fontSize":10.5,"baseline":"middle","align":"left","dx":5},"encoding":{"x":{"datum":1,"type":"quantitative","scale":{"domain":[0,1,2],"range":[505,540,749],"nice":false,"zero":false}},"y":{"field":"k","type":"nominal","sort":null,"scale":{"type":"band","range":[744,798],"paddingInner":0,"paddingOuter":0}},"text":{"field":"t","type":"nominal"}}}
  ]},
 {"data":{"name":"g3"},
  "layer":[
   {"mark":{"type":"rect","fill":"#f8cfc7","stroke":"#c8163c","strokeWidth":1.3},"encoding":{"x":{"datum":0,"type":"quantitative","scale":{"domain":[0,1,2],"range":[125,160,369],"nice":false,"zero":false}},"x2":{"datum":1},"y":{"field":"k","type":"nominal","sort":null,"scale":{"type":"band","range":[1229,1337],"paddingInner":0,"paddingOuter":0}}}},
   {"mark":{"type":"rect","fill":"white","stroke":"#c8163c","strokeWidth":1.3},"encoding":{"x":{"datum":1,"type":"quantitative","scale":{"domain":[0,1,2],"range":[125,160,369],"nice":false,"zero":false}},"x2":{"datum":2},"y":{"field":"k","type":"nominal","sort":null,"scale":{"type":"band","range":[1229,1337],"paddingInner":0,"paddingOuter":0}}}},
   {"mark":{"type":"text","fontSize":11,"baseline":"middle"},"encoding":{"x":{"datum":0.5,"type":"quantitative","scale":{"domain":[0,1,2],"range":[125,160,369],"nice":false,"zero":false}},"y":{"field":"k","type":"nominal","sort":null,"scale":{"type":"band","range":[1229,1337],"paddingInner":0,"paddingOuter":0}},"text":{"field":"k","type":"nominal"}}},
   {"mark":{"type":"text","fontSize":10.5,"baseline":"middle","align":"left","dx":5},"encoding":{"x":{"datum":1,"type":"quantitative","scale":{"domain":[0,1,2],"range":[125,160,369],"nice":false,"zero":false}},"y":{"field":"k","type":"nominal","sort":null,"scale":{"type":"band","range":[1229,1337],"paddingInner":0,"paddingOuter":0}},"text":{"field":"t","type":"nominal"}}}
  ]},
 {"data":{"name":"g4"},
  "layer":[
   {"mark":{"type":"rect","fill":"#f8cfc7","stroke":"#c8163c","strokeWidth":1.3},"encoding":{"x":{"datum":0,"type":"quantitative","scale":{"domain":[0,1,2,3,4],"range":[504,541,637,671,766],"nice":false,"zero":false}},"x2":{"datum":1},"y":{"field":"k1","type":"nominal","sort":null,"scale":{"type":"band","range":[1229,1337],"paddingInner":0,"paddingOuter":0}}}},
   {"mark":{"type":"rect","fill":"white","stroke":"#c8163c","strokeWidth":1.3},"encoding":{"x":{"datum":1,"type":"quantitative","scale":{"domain":[0,1,2,3,4],"range":[504,541,637,671,766],"nice":false,"zero":false}},"x2":{"datum":2},"y":{"field":"k1","type":"nominal","sort":null,"scale":{"type":"band","range":[1229,1337],"paddingInner":0,"paddingOuter":0}}}},
   {"mark":{"type":"rect","fill":"#f8cfc7","stroke":"#c8163c","strokeWidth":1.3},"encoding":{"x":{"datum":2,"type":"quantitative","scale":{"domain":[0,1,2,3,4],"range":[504,541,637,671,766],"nice":false,"zero":false}},"x2":{"datum":3},"y":{"field":"k1","type":"nominal","sort":null,"scale":{"type":"band","range":[1229,1337],"paddingInner":0,"paddingOuter":0}}}},
   {"mark":{"type":"rect","fill":"white","stroke":"#c8163c","strokeWidth":1.3},"encoding":{"x":{"datum":3,"type":"quantitative","scale":{"domain":[0,1,2,3,4],"range":[504,541,637,671,766],"nice":false,"zero":false}},"x2":{"datum":4},"y":{"field":"k1","type":"nominal","sort":null,"scale":{"type":"band","range":[1229,1337],"paddingInner":0,"paddingOuter":0}}}},
   {"mark":{"type":"text","fontSize":11,"baseline":"middle"},"encoding":{"x":{"datum":0.5,"type":"quantitative","scale":{"domain":[0,1,2,3,4],"range":[504,541,637,671,766],"nice":false,"zero":false}},"y":{"field":"k1","type":"nominal","sort":null,"scale":{"type":"band","range":[1229,1337],"paddingInner":0,"paddingOuter":0}},"text":{"field":"k1","type":"nominal"}}},
   {"mark":{"type":"text","fontSize":10.5,"baseline":"middle","align":"left","dx":4},"encoding":{"x":{"datum":1,"type":"quantitative","scale":{"domain":[0,1,2,3,4],"range":[504,541,637,671,766],"nice":false,"zero":false}},"y":{"field":"k1","type":"nominal","sort":null,"scale":{"type":"band","range":[1229,1337],"paddingInner":0,"paddingOuter":0}},"text":{"field":"t1","type":"nominal"}}},
   {"mark":{"type":"text","fontSize":11,"baseline":"middle"},"encoding":{"x":{"datum":2.5,"type":"quantitative","scale":{"domain":[0,1,2,3,4],"range":[504,541,637,671,766],"nice":false,"zero":false}},"y":{"field":"k1","type":"nominal","sort":null,"scale":{"type":"band","range":[1229,1337],"paddingInner":0,"paddingOuter":0}},"text":{"field":"k2","type":"nominal"}}},
   {"mark":{"type":"text","fontSize":10.5,"baseline":"middle","align":"left","dx":4},"encoding":{"x":{"datum":3,"type":"quantitative","scale":{"domain":[0,1,2,3,4],"range":[504,541,637,671,766],"nice":false,"zero":false}},"y":{"field":"k1","type":"nominal","sort":null,"scale":{"type":"band","range":[1229,1337],"paddingInner":0,"paddingOuter":0}},"text":{"field":"t2","type":"nominal"}}}
  ]},
 {"data":{"values":[{"p":"10"}]},
  "layer":[
   {"mark":{"type":"text","fontSize":15,"color":"#666","baseline":"middle"},"encoding":{"x":{"datum":0.5,"type":"quantitative","scale":{"domain":[0,1],"range":[145,176],"nice":false,"zero":false}},"y":{"datum":0.3,"type":"quantitative","scale":{"domain":[0,1],"range":[1365,1398],"nice":false,"zero":false}},"text":{"field":"p","type":"nominal"}}},
   {"mark":{"type":"rule","color":"#9a9a9a","strokeWidth":1},"encoding":{"x":{"datum":1,"type":"quantitative","scale":{"domain":[0,1],"range":[145,176],"nice":false,"zero":false}},"y":{"datum":0,"type":"quantitative","scale":{"domain":[0,1],"range":[1365,1398],"nice":false,"zero":false}},"y2":{"datum":1}}}
  ]}
]
}
